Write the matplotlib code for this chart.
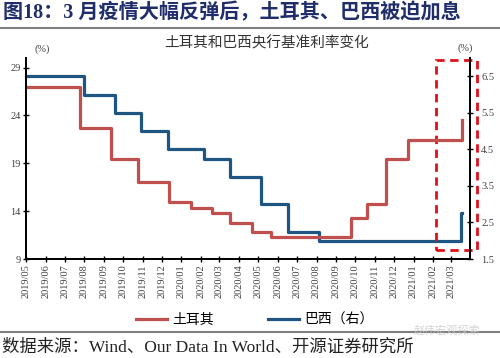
import numpy as np
import pandas as pd
import matplotlib
matplotlib.use("Agg")
import matplotlib.pyplot as plt
import matplotlib.dates as mdates
from matplotlib.patches import Rectangle

# turkey policy rate steps (left axis)
turkey_dates = ["2019-05-01", "2019-07-25", "2019-09-12", "2019-10-24", "2019-12-12",
                "2020-01-16", "2020-02-19", "2020-03-17", "2020-04-22", "2020-05-21",
                "2020-09-24", "2020-10-20", "2020-11-19", "2020-12-24", "2021-03-18"]
turkey_vals = [26.95, 22.7, 19.5, 17.0, 15.0, 14.28, 13.76, 12.78, 11.84, 11.32,
               13.24, 14.73, 19.42, 21.47, 23.48]

# brazil selic steps (right axis)
brazil_dates = ["2019-05-01", "2019-07-31", "2019-09-18", "2019-10-30", "2019-12-11",
                "2020-02-05", "2020-03-18", "2020-05-06", "2020-06-17", "2020-08-05",
                "2021-03-17"]
brazil_vals = [6.5, 6.0, 5.5, 5.0, 4.5, 4.25, 3.75, 3.0, 2.25, 2.0, 2.75]

end_date = "2021-03-19"

red = "#C0504D"
blue = "#1F5582"
fam = ["Liberation Serif", "Noto Sans CJK SC"]
cjk = ["Noto Sans CJK SC", "DejaVu Sans"]

def steps(dates, vals):
    d = list(pd.to_datetime(dates)) + [pd.Timestamp(end_date)]
    v = list(vals) + [vals[-1]]
    return d, v

fig = plt.figure(figsize=(5, 3.58), dpi=100)
ax = fig.add_axes([0.052, 0.2765, 0.888, 0.5615])
ax2 = ax.twinx()

td, tv = steps(turkey_dates, turkey_vals)
bd, bv = steps(brazil_dates, brazil_vals)
ax2.plot(bd, bv, drawstyle="steps-post", color=blue, lw=2.3, label="巴西（右）")
ax.plot(td, tv, drawstyle="steps-post", color=red, lw=2.3, label="土耳其")
ax.set_zorder(ax2.get_zorder() + 1)
ax.patch.set_visible(False)

ax.set_xlim(pd.Timestamp("2019-05-01"), pd.Timestamp("2021-03-31"))
ax.set_ylim(9, 30)
ax.set_yticks([9, 14, 19, 24, 29])
ax2.set_ylim(1.5, 7.0)
ax2.set_yticks([1.5, 2.5, 3.5, 4.5, 5.5, 6.5])

ax.xaxis.set_major_locator(mdates.MonthLocator())
ax.xaxis.set_major_formatter(mdates.DateFormatter("%Y/%m"))
for lab in ax.get_xticklabels():
    lab.set_rotation(90)

for a in (ax, ax2):
    a.spines["top"].set_visible(False)
    for s in ("left", "right", "bottom"):
        a.spines[s].set_linewidth(1.3)
    a.tick_params(direction="inout", length=4, width=1, labelsize=7.5, pad=2)
    for lab in a.get_xticklabels() + a.get_yticklabels():
        lab.set_fontfamily(fam)
        lab.set_color("#404040")
ax2.tick_params(axis="y", pad=6)

# title and rules
fig.text(0.006, 0.962, "图18：3 月疫情大幅反弹后，土耳其、巴西被迫加息", family=fam,
         fontsize=14.5, fontweight="bold", color="#1F2D6B", va="center")
fig.add_artist(plt.Line2D([0, 1], [0.922, 0.922], color="#808080", lw=1.5))
fig.add_artist(plt.Line2D([0, 1], [0.073, 0.073], color="#808080", lw=1.5))
fig.text(0.534, 0.88, "土耳其和巴西央行基准利率变化", family=cjk, fontsize=10.5,
         color="#333333", ha="center", va="center")
fig.text(0.084, 0.862, "(%)", family=fam, fontsize=7.5, color="#404040", ha="center", va="center")
fig.text(0.93, 0.866, "(%)", family=fam, fontsize=7.5, color="#404040", ha="center", va="center")

# red dashed highlight box
fig.add_artist(Rectangle((0.872, 0.302), 0.082, 0.530, transform=fig.transFigure,
                         fill=False, edgecolor="#E0101A", lw=2, ls=(0, (3, 2))))

h1, l1 = ax.get_legend_handles_labels()
h2, l2 = ax2.get_legend_handles_labels()
fig.legend(h1 + h2, l1 + l2, loc="center", bbox_to_anchor=(0.51, 0.107), ncol=2,
           frameon=False, prop={"family": cjk, "size": 10}, handlelength=2.2,
           columnspacing=3.9, handletextpad=0.4)

fig.text(0.004, 0.028, "数据来源：Wind、Our Data In World、开源证券研究所", family=fam,
         fontsize=12.5, color="#222222", va="center")
fig.text(0.96, 0.078, "赵伟宏观探索", family=cjk, fontsize=8, color="#c8c8c8",
         ha="right", va="center", alpha=0.8)

fig.savefig("out.png", dpi=100)
